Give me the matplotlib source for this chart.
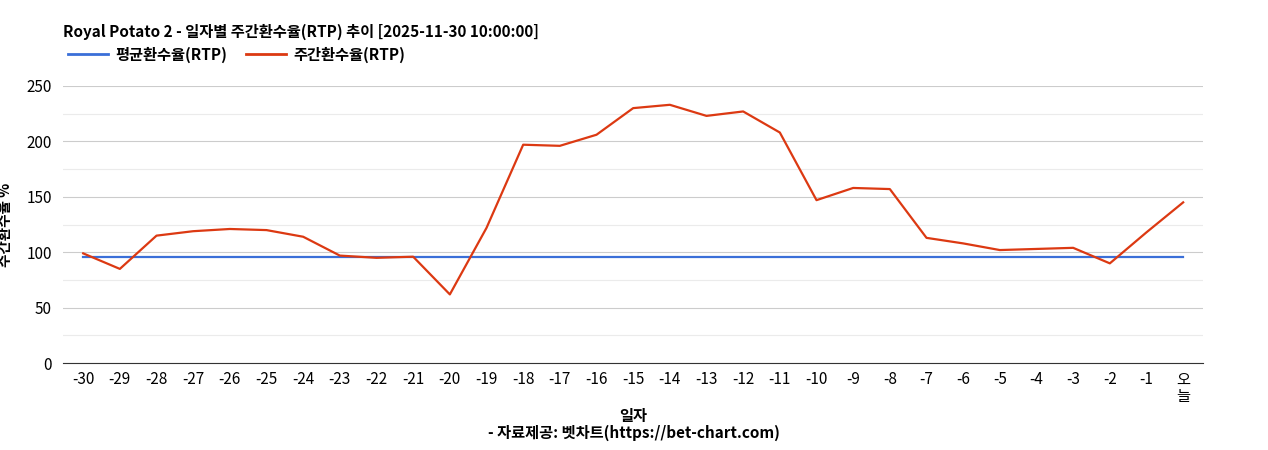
import matplotlib.pyplot as plt
from matplotlib.lines import Line2D

plt.rcParams['font.family'] = ['Noto Sans CJK KR', 'DejaVu Sans']

days = [str(d) for d in range(-30, 0)] + ['오\n늘']
weekly_rtp = [99, 85, 115, 119, 121, 120, 114, 97, 95, 96, 62, 122, 197, 196, 206,
              230, 233, 223, 227, 208, 147, 158, 157, 113, 108, 102, 103, 104, 90, 118, 145]
avg_rtp = [96] * len(days)

fig = plt.figure(figsize=(12.68, 4.5), dpi=100)
ax = fig.add_axes([0.0497, 0.193, 0.8993, 0.616])
x = list(range(len(days)))

ax.plot(x, avg_rtp, color='#3a6fd8', lw=1.6)
ax.plot(x, weekly_rtp, color='#dc3912', lw=1.6)

ax.set_xlim(-0.55, len(days) - 0.45)
ax.set_ylim(0, 250)
ax.set_yticks([0, 50, 100, 150, 200, 250])
ax.set_yticks([25, 75, 125, 175, 225], minor=True)
ax.tick_params(axis='y', which='both', length=0, labelsize=11, pad=8)
ax.grid(axis='y', which='major', color='#cccccc', lw=0.8)
ax.grid(axis='y', which='minor', color='#ebebeb', lw=0.8)
ax.set_axisbelow(True)
ax.set_xticks(x)
ax.set_xticklabels(days, fontsize=11, linespacing=1.0)
ax.tick_params(axis='x', length=0, pad=6)
for s in ['top', 'right', 'left']:
    ax.spines[s].set_visible(False)
ax.spines['bottom'].set_color('#333333')

ax.set_ylabel('주간환수율 %', fontsize=10.5, fontweight='bold', labelpad=10)
ax.set_xlabel('일자', fontsize=11, fontweight='bold', labelpad=2)
fig.text(0.5, 0.028, '- 자료제공: 벳차트(https://bet-chart.com)', ha='center', fontsize=11, fontweight='bold')

fig.text(0.0497, 0.93, 'Royal Potato 2 - 일자별 주간환수율(RTP) 추이 [2025-11-30 10:00:00]',
         fontsize=11, fontweight='bold', va='center')
handles = [Line2D([], [], color='#3a6fd8', lw=2), Line2D([], [], color='#dc3912', lw=2)]
fig.legend(handles, ['평균환수율(RTP)', '주간환수율(RTP)'], loc='center left',
           bbox_to_anchor=(0.043, 0.878), ncol=2, frameon=False, handlelength=2.6,
           handletextpad=0.5, columnspacing=1.2, prop={'size': 11, 'weight': 'bold'})

fig.savefig('out.png', dpi=100)
